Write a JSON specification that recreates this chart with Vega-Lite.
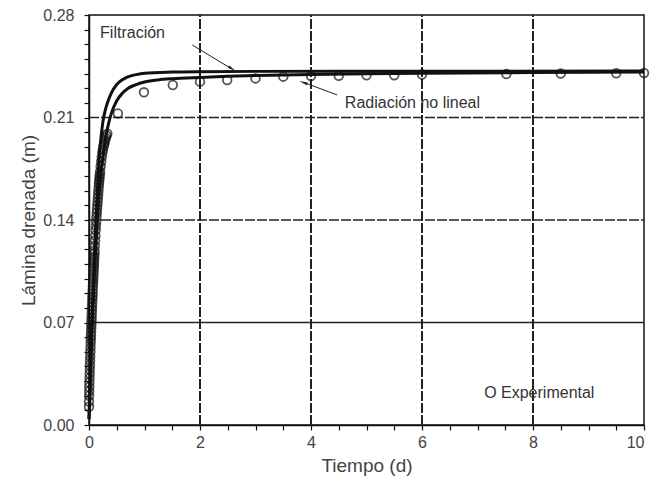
{
  "$schema": "https://vega.github.io/schema/vega-lite/v6.json",
  "width": 555,
  "height": 410,
  "autosize": {"type": "none"},
  "padding": {"left": 89, "top": 15, "right": 7, "bottom": 62},
  "background": "white",
  "config": {
    "view": {"stroke": "#111", "strokeWidth": 1.5},
    "font": "Liberation Sans",
    "axis": {
      "domainColor": "#111", "domainWidth": 1.5, "tickColor": "#111", "tickWidth": 1.2, "tickSize": 5,
      "labelFont": "Liberation Sans", "labelFontSize": 16, "labelColor": "#444",
      "titleFont": "Liberation Sans", "titleFontSize": 19, "titleFontWeight": "normal", "titleColor": "#444",
      "grid": false, "labelOverlap": false, "labelFlush": false
    },
    "axisX": {"labelPadding": 4, "titlePadding": 6},
    "axisY": {"labelPadding": 10, "titlePadding": 4}
  },
  "datasets": {
    "curves": [
      {"s": "Filtración", "t": 0, "y": 0.004},
      {"s": "Filtración", "t": 0.02, "y": 0.03},
      {"s": "Filtración", "t": 0.05, "y": 0.07},
      {"s": "Filtración", "t": 0.1, "y": 0.12},
      {"s": "Filtración", "t": 0.15, "y": 0.16},
      {"s": "Filtración", "t": 0.2, "y": 0.19},
      {"s": "Filtración", "t": 0.25, "y": 0.207},
      {"s": "Filtración", "t": 0.3, "y": 0.216},
      {"s": "Filtración", "t": 0.35, "y": 0.222},
      {"s": "Filtración", "t": 0.4, "y": 0.2265},
      {"s": "Filtración", "t": 0.5, "y": 0.2325},
      {"s": "Filtración", "t": 0.6, "y": 0.2358},
      {"s": "Filtración", "t": 0.7, "y": 0.2378},
      {"s": "Filtración", "t": 0.85, "y": 0.2393},
      {"s": "Filtración", "t": 1.0, "y": 0.2402},
      {"s": "Filtración", "t": 1.5, "y": 0.2410},
      {"s": "Filtración", "t": 2, "y": 0.2413},
      {"s": "Filtración", "t": 3, "y": 0.2415},
      {"s": "Filtración", "t": 5, "y": 0.2416},
      {"s": "Filtración", "t": 10, "y": 0.2417},
      {"s": "Radiación", "t": 0, "y": 0.004},
      {"s": "Radiación", "t": 0.02, "y": 0.025},
      {"s": "Radiación", "t": 0.05, "y": 0.06},
      {"s": "Radiación", "t": 0.1, "y": 0.105},
      {"s": "Radiación", "t": 0.15, "y": 0.14},
      {"s": "Radiación", "t": 0.2, "y": 0.165},
      {"s": "Radiación", "t": 0.25, "y": 0.183},
      {"s": "Radiación", "t": 0.3, "y": 0.196},
      {"s": "Radiación", "t": 0.35, "y": 0.2055},
      {"s": "Radiación", "t": 0.4, "y": 0.2125},
      {"s": "Radiación", "t": 0.5, "y": 0.2215},
      {"s": "Radiación", "t": 0.6, "y": 0.2265},
      {"s": "Radiación", "t": 0.7, "y": 0.2298},
      {"s": "Radiación", "t": 0.85, "y": 0.2325},
      {"s": "Radiación", "t": 1.0, "y": 0.2342},
      {"s": "Radiación", "t": 1.25, "y": 0.2357},
      {"s": "Radiación", "t": 1.5, "y": 0.2365},
      {"s": "Radiación", "t": 2, "y": 0.2374},
      {"s": "Radiación", "t": 2.5, "y": 0.2381},
      {"s": "Radiación", "t": 3, "y": 0.2386},
      {"s": "Radiación", "t": 4, "y": 0.2393},
      {"s": "Radiación", "t": 5, "y": 0.2398},
      {"s": "Radiación", "t": 6, "y": 0.2402},
      {"s": "Radiación", "t": 8, "y": 0.2407},
      {"s": "Radiación", "t": 10, "y": 0.2411}
    ],
    "exp": [
      {"t": 0.0, "y": 0.0125}, {"t": 0.0, "y": 0.016}, {"t": 0.002, "y": 0.02}, {"t": 0.004, "y": 0.023},
      {"t": 0.005, "y": 0.026}, {"t": 0.007, "y": 0.029}, {"t": 0.01, "y": 0.032}, {"t": 0.012, "y": 0.035},
      {"t": 0.015, "y": 0.038}, {"t": 0.017, "y": 0.041}, {"t": 0.02, "y": 0.044}, {"t": 0.022, "y": 0.047},
      {"t": 0.025, "y": 0.05}, {"t": 0.027, "y": 0.053}, {"t": 0.03, "y": 0.056}, {"t": 0.032, "y": 0.0585},
      {"t": 0.035, "y": 0.061}, {"t": 0.037, "y": 0.0635}, {"t": 0.04, "y": 0.066}, {"t": 0.042, "y": 0.0685},
      {"t": 0.045, "y": 0.071}, {"t": 0.047, "y": 0.0735}, {"t": 0.05, "y": 0.076}, {"t": 0.052, "y": 0.0785},
      {"t": 0.055, "y": 0.081}, {"t": 0.057, "y": 0.0835}, {"t": 0.06, "y": 0.086}, {"t": 0.062, "y": 0.088},
      {"t": 0.065, "y": 0.09}, {"t": 0.067, "y": 0.0925}, {"t": 0.07, "y": 0.095}, {"t": 0.072, "y": 0.097},
      {"t": 0.075, "y": 0.099}, {"t": 0.077, "y": 0.101}, {"t": 0.08, "y": 0.103}, {"t": 0.082, "y": 0.105},
      {"t": 0.085, "y": 0.107}, {"t": 0.087, "y": 0.109}, {"t": 0.09, "y": 0.111}, {"t": 0.092, "y": 0.113},
      {"t": 0.095, "y": 0.115}, {"t": 0.097, "y": 0.117}, {"t": 0.1, "y": 0.119}, {"t": 0.105, "y": 0.1225},
      {"t": 0.11, "y": 0.126}, {"t": 0.115, "y": 0.1295}, {"t": 0.12, "y": 0.133}, {"t": 0.125, "y": 0.136},
      {"t": 0.13, "y": 0.139}, {"t": 0.135, "y": 0.142}, {"t": 0.14, "y": 0.145}, {"t": 0.145, "y": 0.1475},
      {"t": 0.15, "y": 0.15}, {"t": 0.155, "y": 0.1525}, {"t": 0.16, "y": 0.155}, {"t": 0.165, "y": 0.1575},
      {"t": 0.17, "y": 0.16}, {"t": 0.175, "y": 0.1625}, {"t": 0.18, "y": 0.165}, {"t": 0.185, "y": 0.167},
      {"t": 0.19, "y": 0.169}, {"t": 0.195, "y": 0.171}, {"t": 0.2, "y": 0.173}, {"t": 0.21, "y": 0.1765},
      {"t": 0.22, "y": 0.18}, {"t": 0.23, "y": 0.183}, {"t": 0.24, "y": 0.186}, {"t": 0.25, "y": 0.188},
      {"t": 0.26, "y": 0.19}, {"t": 0.27, "y": 0.1915}, {"t": 0.28, "y": 0.193}, {"t": 0.29, "y": 0.1945},
      {"t": 0.3, "y": 0.196}, {"t": 0.315, "y": 0.1975}, {"t": 0.33, "y": 0.199},
      {"t": 0.52, "y": 0.2128}, {"t": 0.99, "y": 0.2272}, {"t": 1.51, "y": 0.2322}, {"t": 2.0, "y": 0.2345},
      {"t": 2.49, "y": 0.2356}, {"t": 3.0, "y": 0.2367}, {"t": 3.5, "y": 0.2379}, {"t": 4.0, "y": 0.2383},
      {"t": 4.5, "y": 0.2385}, {"t": 5.0, "y": 0.2388}, {"t": 5.5, "y": 0.2389}, {"t": 6.0, "y": 0.2393},
      {"t": 7.52, "y": 0.2397}, {"t": 8.5, "y": 0.2400}, {"t": 9.5, "y": 0.2402}, {"t": 10.0, "y": 0.2404}
    ]
  },
  "encoding": {
    "x": {"field": "t", "type": "quantitative", "title": "Tiempo (d)",
      "scale": {"domain": [0, 10], "nice": false},
      "axis": {"values": [0,0.5,1,1.5,2,2.5,3,3.5,4,4.5,5,5.5,6,6.5,7,7.5,8,8.5,9,9.5,10],
        "labelExpr": "datum.value % 2 == 0 ? format(datum.value, 'd') : ''",
        "labelAlign": {"condition": {"test": "datum.value == 10", "value": "right"}, "value": "center"}}},
    "y": {"field": "y", "type": "quantitative", "title": "Lámina drenada (m)",
      "scale": {"domain": [0, 0.28], "nice": false},
      "axis": {"values": [0,0.01,0.02,0.03,0.04,0.05,0.06,0.07,0.08,0.09,0.1,0.11,0.12,0.13,0.14,0.15,0.16,0.17,0.18,0.19,0.2,0.21,0.22,0.23,0.24,0.25,0.26,0.27,0.28],
        "labelExpr": "(round(datum.value*100) % 7 == 0) ? format(datum.value, '.2f') : ''"}}
  },
  "layer": [
    {
      "data": {"values": [{"t": 2, "y": 0}, {"t": 4, "y": 0}, {"t": 6, "y": 0}, {"t": 8, "y": 0}]},
      "mark": {"type": "rule", "color": "#222", "strokeWidth": 2, "strokeDash": [10, 2]},
      "encoding": {"y": {"datum": 0}, "y2": {"datum": 0.28}}
    },
    {
      "data": {"values": [{"t": 0, "y": 0.14}, {"t": 0, "y": 0.21}]},
      "mark": {"type": "rule", "color": "#222", "strokeWidth": 1.5, "strokeDash": [10, 2]},
      "encoding": {"x": {"datum": 0}, "x2": {"datum": 10}}
    },
    {
      "data": {"values": [{"t": 0, "y": 0.07}]},
      "mark": {"type": "rule", "color": "#222", "strokeWidth": 1.5},
      "encoding": {"x": {"datum": 0}, "x2": {"datum": 10}}
    },
    {
      "data": {"name": "curves"},
      "mark": {"type": "line", "color": "#111", "strokeWidth": 3, "interpolate": "monotone"},
      "encoding": {"detail": {"field": "s"}}
    },
    {
      "data": {"name": "exp"},
      "mark": {"type": "point", "shape": "circle", "filled": false, "color": "#111", "size": 75, "strokeWidth": 1.8},
      "encoding": {}
    },
    {
      "data": {"values": [
        {"t": 1.86, "y": 0.2595, "t2": 2.55, "y2": 0.2437},
        {"t": 4.47, "y": 0.2254, "t2": 3.9, "y2": 0.2335}
      ]},
      "mark": {"type": "rule", "color": "#222", "strokeWidth": 1},
      "encoding": {"x2": {"field": "t2"}, "y2": {"field": "y2"}}
    },
    {
      "data": {"values": [
        {"t": 2.58, "y": 0.2432, "a": 121},
        {"t": 3.86, "y": 0.2340, "a": 290}
      ]},
      "mark": {"type": "point", "shape": "M0,-1L0.35,1L-0.35,1Z", "filled": true, "color": "#222", "size": 70, "opacity": 1},
      "encoding": {"angle": {"field": "a", "type": "quantitative", "scale": null}}
    },
    {
      "data": {"values": [
        {"t": 0.2, "y": 0.2677, "label": "Filtración"},
        {"t": 4.61, "y": 0.2199, "label": "Radiación no lineal"},
        {"t": 7.12, "y": 0.0219, "label": "O Experimental"}
      ]},
      "mark": {"type": "text", "align": "left", "baseline": "middle", "font": "Liberation Sans", "fontSize": 16, "color": "#333"},
      "encoding": {"text": {"field": "label"}}
    }
  ]
}
